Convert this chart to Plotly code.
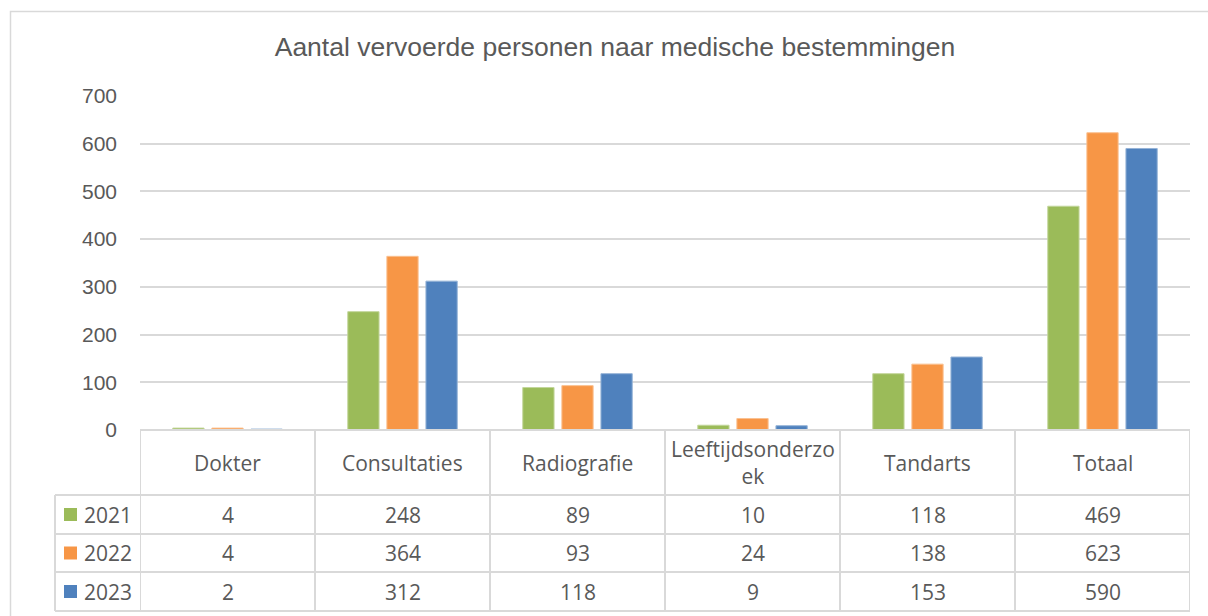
import plotly.graph_objects as go

categories = ["Dokter", "Consultaties", "Radiografie", "Leeftijdsonderzoek", "Tandarts", "Totaal"]
category_labels = ["Dokter", "Consultaties", "Radiografie", "Leeftijdsonderzo<br>ek", "Tandarts", "Totaal"]
years = ["2021", "2022", "2023"]
values_2021 = [4, 248, 89, 10, 118, 469]
values_2022 = [4, 364, 93, 24, 138, 623]
values_2023 = [2, 312, 118, 9, 153, 590]
series = [values_2021, values_2022, values_2023]
colors = ["#9BBB59", "#F79646", "#4F81BD"]
line_colors = ["#C3D69B", "#FAC090", "#95B3D7"]
y_ticks = [0, 100, 200, 300, 400, 500, 600, 700]

W, H = 1208, 616
def px_x(x):
    return x / W
def px_y(y):
    return 1 - y / H

TEXT = "#595959"
GRID = "#D9D9D9"

fig = go.Figure()
for yr, vals, c, lc in zip(years, series, colors, line_colors):
    fig.add_trace(go.Bar(x=list(range(len(categories))), y=vals, name=yr,
                         marker=dict(color=c, line=dict(color=lc, width=1))))

x0p, x1p = 140, 1190
y_top, y_zero = 96, 430
fig.update_layout(
    width=W, height=H,
    margin=dict(l=0, r=0, t=0, b=0, autoexpand=False),
    paper_bgcolor="white", plot_bgcolor="white",
    showlegend=False,
    barmode="group", bargap=0.33, bargroupgap=0.2,
    xaxis=dict(domain=[px_x(x0p), px_x(x1p)], range=[-0.5, 5.5], showticklabels=False,
               showgrid=False, zeroline=False, showline=False, fixedrange=True, automargin=False),
    yaxis=dict(domain=[px_y(y_zero), px_y(y_top)], range=[0, 700], tickvals=y_ticks,
               showgrid=True, gridcolor=GRID, gridwidth=1.5, zeroline=False, showline=False,
               ticks="", ticklabelstandoff=22, fixedrange=True, automargin=False,
               tickfont=dict(family="Liberation Sans, Arial", size=21, color=TEXT)),
    font=dict(family="Liberation Sans, Arial", color=TEXT),
    title=dict(text="Aantal vervoerde personen naar medische bestemmingen",
               x=px_x(615), xanchor="center", y=px_y(47), yanchor="middle", automargin=False,
               font=dict(family="Liberation Sans, Arial", size=26.5, color=TEXT)),
)

shapes = []
# outer chart border
shapes.append(dict(type="rect", xref="paper", yref="paper", x0=px_x(10.5), x1=px_x(1215),
                   y0=px_y(640), y1=px_y(11.5), line=dict(color="#D9D9D9", width=1.5)))

# table geometry
row_lines = [430, 495, 534, 572, 611]
tbl_col = dict(color="#D9D9D9", width=2)
for i in range(len(categories) + 1):
    shapes.append(dict(type="line", xref="x", yref="paper", x0=i - 0.5, x1=i - 0.5,
                       y0=px_y(row_lines[0]), y1=px_y(row_lines[-1]), line=tbl_col))
shapes.append(dict(type="line", xref="x", yref="paper", x0=-0.5, x1=5.5,
                   y0=px_y(row_lines[0]), y1=px_y(row_lines[0]), line=tbl_col))
for r in row_lines[1:]:
    shapes.append(dict(type="line", xref="paper", yref="paper", x0=px_x(55), x1=px_x(x1p),
                       y0=px_y(r), y1=px_y(r), line=tbl_col))
shapes.append(dict(type="line", xref="paper", yref="paper", x0=px_x(55), x1=px_x(55),
                   y0=px_y(row_lines[1]), y1=px_y(row_lines[-1]), line=tbl_col))

annotations = []
TFONT = dict(family="Open Sans", size=21, color=TEXT)
header_mid = (row_lines[0] + row_lines[1]) / 2
for i, lab in enumerate(category_labels):
    annotations.append(dict(x=i, y=px_y(header_mid), xref="x", yref="paper", text=lab,
                            showarrow=False, font=TFONT, xanchor="center", yanchor="middle"))
for r, (yr, vals, c) in enumerate(zip(years, series, colors)):
    mid = (row_lines[r + 1] + row_lines[r + 2]) / 2
    shapes.append(dict(type="rect", xref="paper", yref="paper", x0=px_x(64), x1=px_x(77),
                       y0=px_y(mid + 6.5), y1=px_y(mid - 6.5), fillcolor=c, line=dict(width=0)))
    annotations.append(dict(x=px_x(82), y=px_y(mid), xref="paper", yref="paper", text=yr,
                            showarrow=False, font=TFONT, xanchor="left", yanchor="middle"))
    for i, v in enumerate(vals):
        annotations.append(dict(x=i, y=px_y(mid), xref="x", yref="paper", text=str(v),
                                showarrow=False, font=TFONT, xanchor="center", yanchor="middle"))

fig.update_layout(shapes=shapes, annotations=annotations)
fig.write_html("out.html", config={"displayModeBar": False},
               post_script="document.body.style.margin='0';document.body.style.overflow='hidden';")
